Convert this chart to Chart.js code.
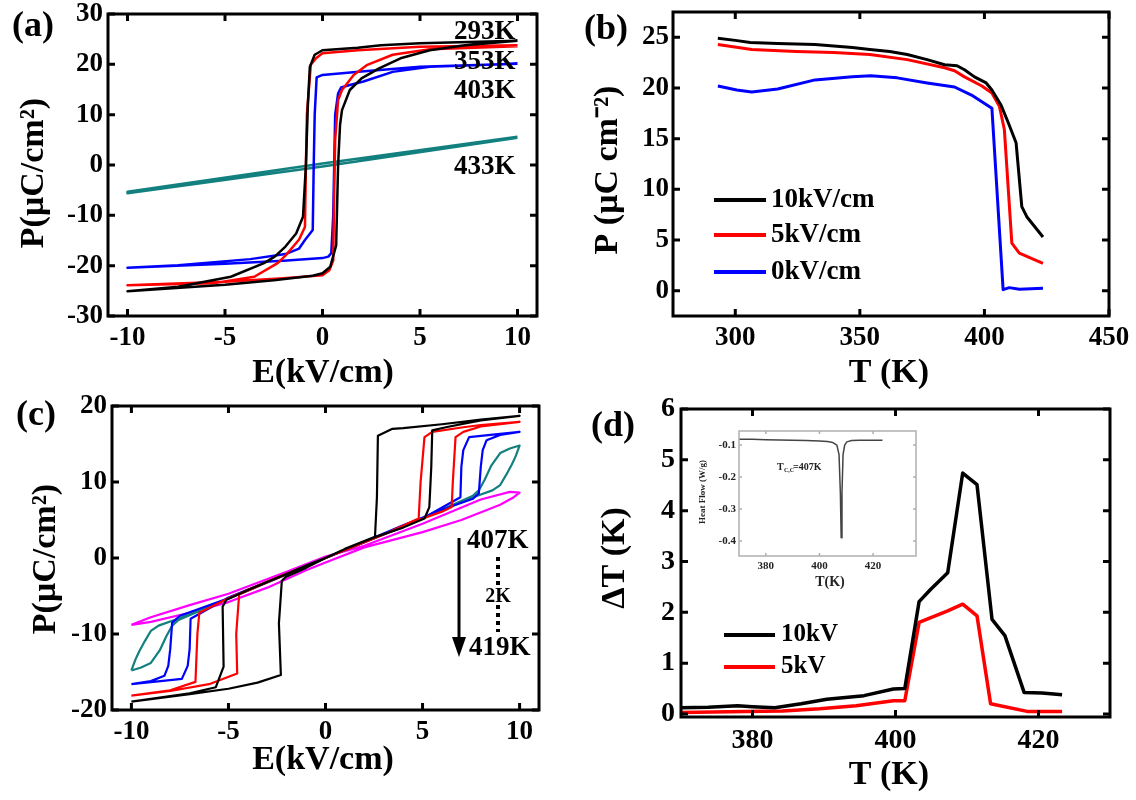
<!DOCTYPE html>
<html>
<head>
<meta charset="utf-8">
<script src="https://cdn.jsdelivr.net/npm/chart.js@4.4.1/dist/chart.umd.min.js"></script>
<style>
  body { margin: 0; background: #fff; }
  #wrap { position: relative; width: 1136px; height: 800px; overflow: hidden; background: #fff; }
  canvas { position: absolute; }
</style>
</head>
<body>
<div id="wrap">
  <canvas id="pa" width="568" height="390" style="left:0px;top:0px"></canvas>
  <canvas id="pb" width="568" height="390" style="left:568px;top:0px"></canvas>
  <canvas id="pc" width="568" height="410" style="left:0px;top:390px"></canvas>
  <canvas id="pd" width="568" height="410" style="left:568px;top:390px"></canvas>
  <canvas id="pi" width="240" height="180" style="left:690px;top:420px"></canvas>
</div>
<script>
// ---- (a) P-E loops at several temperatures (path: descending branch then ascending branch)
const a293E = [10, 7, 5, 3, 1.8, 0, -0.4, -0.65, -0.75, -0.85, -1.0, -1.35, -1.9, -2.45, -3.0, -4.7, -7.4, -10,
               -10, -5, -2.5, -0.5, 0, 0.4, 0.7, 0.8, 0.9, 1.0, 1.4, 2.0, 2.9, 4.0, 5.5, 7.3, 10];
const a293P = [24.7, 24.4, 24.2, 23.8, 23.3, 22.8, 21.9, 19.5, 12, 0, -10.3, -13.6, -16.2, -18.2, -19.5, -22.2, -24.2, -25.1,
               -25.1, -23.8, -22.9, -22.0, -21.5, -20.2, -16, 0, 8, 10.9, 14.9, 17.2, 19.2, 21.2, 22.8, 23.8, 24.7];
const a353E = [10, 5, 1.8, 0, -0.33, -0.6, -0.8, -0.85, -0.9, -1.2, -1.5, -1.9, -2.3, -3.5, -5.6, -10,
               -10, -5, -2, 0, 0.35, 0.55, 0.6, 0.65, 0.8, 1.0, 1.6, 2.3, 3.6, 5.5, 10];
const a353P = [23.8, 23.5, 22.8, 22.2, 21.2, 19.9, 10, 0, -12.3, -14.8, -16.2, -18, -19.5, -22.2, -23.5, -23.9,
               -23.9, -23.2, -22.5, -21.9, -20.9, -19, -5, 5, 12.9, 14.9, 17.9, 19.9, 21.9, 23.0, 23.6];
const a403E = [10, 5, 2, 0, -0.3, -0.4, -0.45, -0.5, -0.9, -1.2, -1.9, -3.7, -7.4, -10,
               -10, -5, -2, 0, 0.3, 0.45, 0.55, 0.6, 0.65, 0.8, 0.95, 1.4, 2.1, 3.6, 5.5, 10];
const a403P = [20.1, 19.5, 18.6, 17.9, 17.4, 10, 0, -12.9, -14.9, -16.6, -17.7, -18.7, -19.9, -20.4,
               -20.4, -19.6, -19.0, -18.5, -18.2, -17.5, -10, 0, 10, 14.2, 15.4, 15.9, 16.6, 18.5, 19.5, 20.1];
const a433E = [10, 0, -10, -10, 0, 10];
const a433P = [5.6, 0.3, -5.3, -5.6, -0.3, 5.4];
const aTicksX = [-10, -5, 0, 5, 10];
const aTicksY = [-30, -20, -10, 0, 10, 20, 30];

// ---- (b) P vs T
const bT10 = [293, 300, 306, 317, 332, 347, 354, 362, 369, 377, 384, 389, 392, 396, 400.7, 403, 406.7, 409.7, 412.7, 415, 417, 423.5];
const bP10 = [24.9, 24.7, 24.5, 24.4, 24.3, 24.0, 23.8, 23.6, 23.3, 22.8, 22.3, 22.2, 21.8, 21.1, 20.5, 19.8, 18.3, 16.5, 14.6, 8.3, 7.3, 5.3];
const bT5 = [293, 306.6, 324.5, 339.5, 354, 369, 384, 388, 392, 399, 403, 406, 408, 411, 414, 423.5];
const bP5 = [24.3, 23.8, 23.6, 23.5, 23.3, 22.8, 22.0, 21.7, 21.1, 20.2, 19.5, 18.2, 15.9, 4.7, 3.7, 2.7];
const bT0 = [293, 300.6, 306.6, 317, 332, 347, 354.4, 365, 377, 388, 394.8, 403, 407.5, 410, 414, 423.5];
const bP0 = [20.2, 19.8, 19.6, 19.9, 20.8, 21.1, 21.2, 21.0, 20.5, 20.1, 19.3, 18.0, 0.1, 0.3, 0.15, 0.25];
const bTicksX = [300, 350, 400, 450];
const bTicksY = [0, 5, 10, 15, 20, 25];

// ---- (c) double loops 407K .. 419K (ascending branch then descending branch)
const c407E = [-10, -7, -5, -3.5, -2.3, -2.4, -2.25, -2.05, -1, 0, 1, 2.6, 4, 5.1, 5.35, 5.45, 5.5, 6.2, 8, 10,
               10, 8, 6, 4, 3.45, 2.7, 2.65, 2.55, 1, 0, -1, -2, -4, -5.1, -5.3, -5.25, -5.65, -7, -10];
const c407P = [-18.9, -17.9, -17.2, -16.4, -15.4, -8.6, -3, -2.5, -1.3, 0, 1.2, 2.8, 4, 5.2, 6.7, 12, 16.8, 17.2, 18.1, 18.7,
               18.7, 18.2, 17.6, 17.1, 17.0, 16.1, 8, 2.8, 1.2, 0, -1, -2.1, -4.2, -5.5, -6.4, -14.3, -17, -17.8, -18.9];
const c409E = [-10, -8, -6, -4.55, -4.6, -4.45, -3, 0, 3, 4.8, 6, 6.5, 6.56, 6.7, 7.1, 8, 10,
               10, 8, 7.1, 5.5, 5.1, 4.9, 4.8, 3, 0, -3, -5, -6.5, -6.6, -6.7, -8, -10];
const c409P = [-18.1, -17.5, -16.6, -15.2, -10, -4.8, -3.2, 0, 3.1, 5, 6.1, 6.7, 10, 15.9, 16.6, 17.3, 17.9,
               17.9, 17.5, 17.2, 16.6, 15.9, 10, 5.2, 3.1, 0, -3.1, -5.3, -7.2, -10, -16.3, -17.4, -18.1];
const c411E = [-10, -8.5, -7.4, -7.1, -7.0, -6.95, -5, 0, 4, 6.5, 7.6, 7.9, 8.0, 8.1, 8.3, 9, 10,
               10, 8.5, 7.4, 7.1, 7.0, 6.95, 5, 0, -5, -7.5, -7.9, -8.0, -8.1, -8.3, -9, -10];
const c411P = [-16.6, -16.2, -15.9, -14.2, -12, -8, -5.2, 0, 4.3, 6.8, 7.8, 8.5, 12, 14.2, 15.5, 16.2, 16.6,
               16.6, 16.2, 15.9, 14.2, 12, 8.0, 5.2, 0, -5.3, -7.6, -8.5, -12, -14.2, -15.5, -16.2, -16.6];
const c413E = [-10, -9.5, -9, -8.55, -8.2, -7.9, -7.6, -4, 0, 4, 7.6, 8.6, 9.0, 9.3, 9.6, 9.8, 10,
               10, 9.5, 9, 8.55, 8.2, 7.9, 7.6, 4, 0, -4, -7.6, -8.6, -9, -9.3, -9.6, -9.8, -10];
const c413P = [-14.8, -14.4, -13.8, -12.2, -10.3, -8.9, -8.2, -4.2, 0, 4.2, 8.0, 8.9, 9.6, 10.9, 12.3, 13.4, 14.8,
               14.8, 14.4, 13.8, 12.2, 10.3, 8.9, 8.2, 4.1, 0, -4.3, -8.0, -8.9, -9.6, -10.9, -12.3, -13.4, -14.8];
const c419E = [-10, -9, -7, -5, -3, -1, 0, 2, 5, 7, 9, 9.7, 10,
               10, 9.5, 8, 5, 2, 0, -2, -5, -7, -9, -9.7, -10];
const c419P = [-8.8, -8.4, -7.2, -5.8, -3.9, -1.6, -0.6, 1.4, 3.4, 5.0, 7.0, 8.0, 8.6,
               8.6, 8.7, 7.7, 4.5, 1.6, 0.2, -1.8, -4.7, -6.2, -7.8, -8.5, -8.8];
const cTicksX = [-10, -5, 0, 5, 10];
const cTicksY = [-20, -10, 0, 10, 20];

// ---- (d) electrocaloric dT vs T
const dT10 = [370, 373.8, 377.9, 380, 383.1, 386.8, 390.4, 395.6, 399.7, 401.3, 403.3, 404.9, 407.3, 409.4, 411.4, 413.5, 415.3, 418, 420.5, 423.3];
const dD10 = [0.12, 0.13, 0.16, 0.14, 0.12, 0.2, 0.29, 0.36, 0.49, 0.5, 2.21, 2.45, 2.78, 4.74, 4.51, 1.86, 1.54, 0.42, 0.41, 0.38];
const dT5 = [370, 379, 384.2, 389.4, 394.5, 399.7, 401.3, 403.3, 407.3, 409.4, 411.4, 413.3, 418.4, 423.3];
const dD5 = [0.03, 0.05, 0.06, 0.1, 0.16, 0.26, 0.26, 1.8, 2.03, 2.16, 1.93, 0.2, 0.05, 0.05];
const dTicksX = [380, 400, 420];
const dTicksY = [0, 1, 2, 3, 4, 5, 6];

// ---- inset: DSC heat flow
const iT = [370, 375, 380, 385, 390, 395, 400, 403, 405, 406.5, 407.3, 407.8, 408.1, 408.4, 408.8, 409.4, 410.2, 412, 415, 420, 423.5];
const iH = [-0.082, -0.082, -0.083, -0.084, -0.085, -0.086, -0.087, -0.089, -0.092, -0.1, -0.13, -0.25, -0.39, -0.25, -0.13, -0.1, -0.09, -0.086, -0.085, -0.085, -0.085];
const iTicksX = [380, 400, 420];
const iTicksY = [-0.4, -0.3, -0.2, -0.1];

Chart.defaults.font.family = '"Liberation Serif", "Times New Roman", serif';
Chart.defaults.font.weight = 'bold';
Chart.defaults.color = '#000';

const SERIF = '"Liberation Serif", "Times New Roman", serif';
const cfgs = {};

function pts(xs, ys) { return xs.map((x, i) => ({ x, y: ys[i] })); }
function line(label, xs, ys, color, w) {
  return { label, data: pts(xs, ys), borderColor: color, backgroundColor: color, borderWidth: w,
           showLine: true, pointRadius: 0, fill: false, tension: 0, borderJoinStyle: 'round' };
}

function drawText(ctx, it) {
  ctx.save();
  ctx.font = 'bold ' + it.size + 'px ' + SERIF;
  ctx.fillStyle = it.color || '#000';
  ctx.textAlign = it.align || 'left';
  ctx.textBaseline = 'middle';
  ctx.translate(it.x, it.y);
  if (it.rot) ctx.rotate(-Math.PI / 2);
  ctx.fillText(it.t, 0, 0);
  ctx.restore();
}

const boxPlugin = {
  id: 'box',
  afterDatasetsDraw(chart) {
    const c = cfgs[chart.canvas.id];
    const { ctx, chartArea: a, scales } = chart;
    ctx.save();
    ctx.strokeStyle = c.frameColor || '#000';
    ctx.lineWidth = c.frameWidth || 3;
    ctx.strokeRect(a.left, a.top, a.right - a.left, a.bottom - a.top);
    const len = c.tickLen || 7;
    scales.x.ticks.forEach(t => {
      const p = scales.x.getPixelForValue(t.value);
      ctx.beginPath();
      ctx.moveTo(p, a.bottom); ctx.lineTo(p, a.bottom - len);
      ctx.moveTo(p, a.top); ctx.lineTo(p, a.top + len);
      ctx.stroke();
    });
    scales.y.ticks.forEach(t => {
      const p = scales.y.getPixelForValue(t.value);
      ctx.beginPath();
      ctx.moveTo(a.left, p); ctx.lineTo(a.left + len, p);
      ctx.moveTo(a.right, p); ctx.lineTo(a.right - len, p);
      ctx.stroke();
    });
    ctx.restore();
  },
  afterDraw(chart) {
    const c = cfgs[chart.canvas.id];
    const ctx = chart.ctx;
    (c.texts || []).forEach(it => drawText(ctx, it));
    if (c.legend) {
      const L = c.legend;
      chart.data.datasets.forEach((ds, i) => {
        const y = L.ys[i];
        ctx.save();
        ctx.strokeStyle = ds.borderColor;
        ctx.lineWidth = L.lw;
        ctx.beginPath(); ctx.moveTo(L.x1, y); ctx.lineTo(L.x2, y); ctx.stroke();
        ctx.restore();
        drawText(ctx, { t: ds.label, x: L.tx, y: y, size: L.size });
      });
    }
    if (c.arrow) {
      const A = c.arrow;
      ctx.save();
      ctx.strokeStyle = '#000'; ctx.fillStyle = '#000'; ctx.lineWidth = 3;
      ctx.beginPath(); ctx.moveTo(A.x, A.y1); ctx.lineTo(A.x, A.y2 - 15); ctx.stroke();
      ctx.beginPath(); ctx.moveTo(A.x - 7, A.y2 - 20); ctx.lineTo(A.x + 7, A.y2 - 20); ctx.lineTo(A.x, A.y2); ctx.closePath(); ctx.fill();
      ctx.lineWidth = 4; ctx.setLineDash([4, 4]);
      A.dots.forEach(d => { ctx.beginPath(); ctx.moveTo(A.dx, d[0]); ctx.lineTo(A.dx, d[1]); ctx.stroke(); });
      ctx.restore();
    }
  }
};

function axis(ax, dir, size, c) {
  return {
    type: 'linear', position: dir === 'x' ? 'bottom' : 'left',
    min: ax.min, max: ax.max,
    grid: { display: false, drawTicks: false },
    border: { display: false },
    ticks: {
      font: { size: c.tickSize, weight: 'bold', family: SERIF },
      color: c.tickColor || '#000',
      padding: dir === 'x' ? c.padX : c.padY,
      maxRotation: 0, autoSkip: false,
      callback: v => String(v)
    },
    afterBuildTicks: s => { s.ticks = ax.ticks.map(v => ({ value: v })); },
    afterFit: s => {
      if (dir === 'x') s.height = size; else s.width = size;
      s.paddingLeft = 0; s.paddingRight = 0; s.paddingTop = 0; s.paddingBottom = 0;
    }
  };
}

function make(id, datasets, c) {
  cfgs[id] = c;
  const cv = document.getElementById(id);
  new Chart(cv, {
    type: 'scatter',
    data: { datasets },
    options: {
      responsive: false, animation: false, devicePixelRatio: 1, events: [],
      layout: { padding: { left: 0, top: c.area.t, right: cv.width - c.area.r, bottom: 0 } },
      plugins: { legend: { display: false }, tooltip: { enabled: false } },
      scales: {
        x: axis(c.x, 'x', cv.height - c.area.b, c),
        y: axis(c.y, 'y', c.area.l, c)
      }
    },
    plugins: [boxPlugin]
  });
}

// (a)
make('pa', [
  line('293K', a293E, a293P, '#000000', 2.5),
  line('353K', a353E, a353P, '#ff0000', 2.5),
  line('403K', a403E, a403P, '#0000ff', 2.5),
  line('433K', a433E, a433P, '#138080', 2.5)
], {
  area: { l: 108, t: 14, r: 537, b: 316 },
  x: { min: -11, max: 11, ticks: aTicksX }, y: { min: -30, max: 30, ticks: aTicksY },
  tickSize: 27, padX: 6, padY: 5,
  texts: [
    { t: '(a)', x: 12, y: 27, size: 36 },
    { t: '293K', x: 454, y: 32, size: 27 },
    { t: '353K', x: 454, y: 62, size: 27 },
    { t: '403K', x: 454, y: 91, size: 27 },
    { t: '433K', x: 454, y: 167, size: 27 },
    { t: 'P(\u03bcC/cm\u00b2)', x: 34, y: 173, size: 34, rot: true, align: 'center' },
    { t: 'E(kV/cm)', x: 323, y: 373, size: 34, align: 'center' }
  ]
});

// (b)
make('pb', [
  line('10kV/cm', bT10, bP10, '#000000', 3),
  line('5kV/cm', bT5, bP5, '#ff0000', 3),
  line('0kV/cm', bT0, bP0, '#0000ff', 3)
], {
  area: { l: 105, t: 12, r: 541, b: 316 },
  x: { min: 275, max: 450, ticks: bTicksX }, y: { min: -2.5, max: 27.5, ticks: bTicksY },
  tickSize: 27, padX: 6, padY: 4,
  legend: { x1: 146, x2: 198, tx: 203, ys: [200, 235, 272], lw: 4, size: 27 },
  texts: [
    { t: '(b)', x: 16, y: 30, size: 36 },
    { t: 'P (\u03bcC cm\u207b\u00b2)', x: 40, y: 170, size: 34, rot: true, align: 'center' },
    { t: 'T (K)', x: 321, y: 373, size: 34, align: 'center' }
  ]
});

// (c)
make('pc', [
  line('407K', c407E, c407P, '#000000', 2.2),
  line('409K', c409E, c409P, '#ff0000', 2.2),
  line('411K', c411E, c411P, '#0000ff', 2.2),
  line('413K', c413E, c413P, '#138080', 2.2),
  line('419K', c419E, c419P, '#ff00ff', 2.2)
], {
  area: { l: 112, t: 16, r: 539, b: 320 },
  x: { min: -11, max: 11, ticks: cTicksX }, y: { min: -20, max: 20, ticks: cTicksY },
  tickSize: 27, padX: 6, padY: 5,
  arrow: { x: 459, y1: 148, y2: 267, dx: 498, dots: [[167, 197], [215, 242]] },
  texts: [
    { t: '(c)', x: 16, y: 26, size: 36 },
    { t: '407K', x: 467, y: 151, size: 27 },
    { t: '2K', x: 498, y: 207, size: 20, align: 'center' },
    { t: '419K', x: 469, y: 258, size: 27 },
    { t: 'P(\u03bcC/cm\u00b2)', x: 46, y: 169, size: 34, rot: true, align: 'center' },
    { t: 'E(kV/cm)', x: 323, y: 370, size: 34, align: 'center' }
  ]
});

// (d)
make('pd', [
  line('10kV', dT10, dD10, '#000000', 3.5),
  line('5kV', dT5, dD5, '#ff0000', 3.5)
], {
  area: { l: 113, t: 19, r: 542, b: 327 },
  x: { min: 370, max: 430, ticks: dTicksX }, y: { min: -0.06, max: 6, ticks: dTicksY },
  tickSize: 28, padX: 7, padY: 6,
  legend: { x1: 156, x2: 207, tx: 213, ys: [245, 277], lw: 4, size: 25 },
  texts: [
    { t: '(d)', x: 23, y: 37, size: 36 },
    { t: '\u0394T (K)', x: 47, y: 168, size: 34, rot: true, align: 'center' },
    { t: 'T (K)', x: 321, y: 385, size: 34, align: 'center' }
  ]
});

// inset
make('pi', [
  line('Heat Flow', iT, iH, '#444444', 1.5)
], {
  area: { l: 49, t: 11, r: 226, b: 136 },
  x: { min: 370, max: 436, ticks: iTicksX }, y: { min: -0.447, max: -0.056, ticks: iTicksY },
  tickSize: 11, padX: 4, padY: 3, tickColor: '#222',
  frameColor: '#b0b0b0', frameWidth: 1.5, tickLen: 3,
  texts: [
    { t: 'Heat Flow (W/g)', x: 13, y: 72, size: 9, rot: true, align: 'center', color: '#222' },
    { t: 'T(K)', x: 140, y: 162, size: 14, align: 'center', color: '#222' },
    { t: 'T', x: 87, y: 47, size: 10, color: '#222' },
    { t: 'C,C', x: 94, y: 50, size: 6, color: '#222' },
    { t: '=407K', x: 103, y: 47, size: 10, color: '#222' }
  ]
});
</script>
</body>
</html>
